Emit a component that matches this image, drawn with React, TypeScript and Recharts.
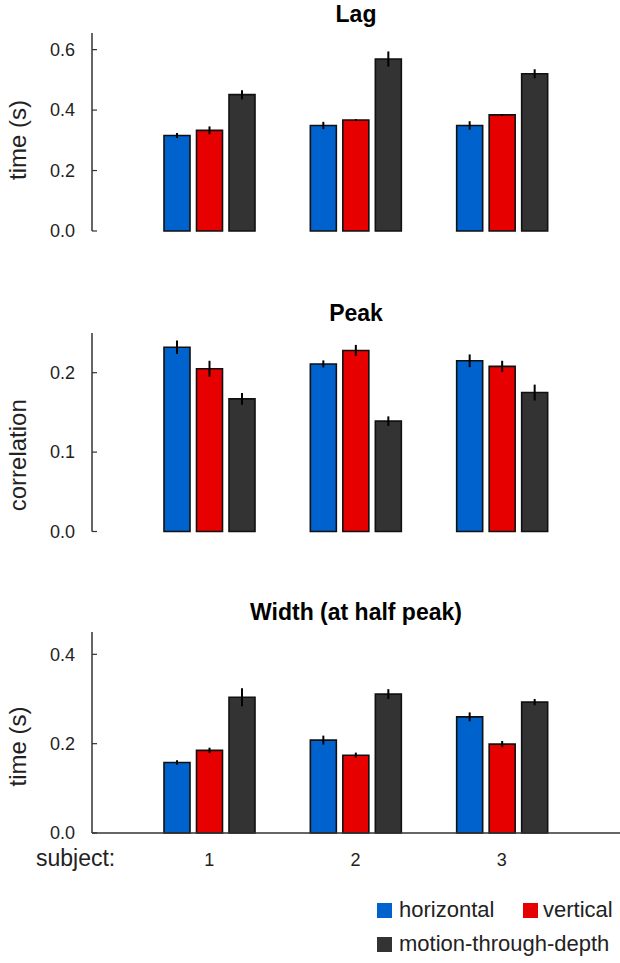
import React from 'react';
import { BarChart, Bar, XAxis, YAxis, ErrorBar } from 'recharts';

// ---- data ----
const subjects = ['1', '2', '3'];
const seriesNames = ['horizontal', 'vertical', 'motion-through-depth'];
const seriesColors = ['#0062CC', '#E60000', '#333333'];

const lagHorizontal = [0.316, 0.349, 0.349];
const lagHorizontalErr = [0.008, 0.012, 0.014];
const lagVertical = [0.333, 0.367, 0.384];
const lagVerticalErr = [0.013, 0.003, 0.003];
const lagDepth = [0.451, 0.569, 0.52];
const lagDepthErr = [0.015, 0.025, 0.015];

const peakHorizontal = [0.232, 0.211, 0.215];
const peakHorizontalErr = [0.0085, 0.0045, 0.008];
const peakVertical = [0.205, 0.228, 0.208];
const peakVerticalErr = [0.01, 0.007, 0.007];
const peakDepth = [0.167, 0.139, 0.175];
const peakDepthErr = [0.0075, 0.006, 0.01];

const widthHorizontal = [0.158, 0.208, 0.26];
const widthHorizontalErr = [0.005, 0.01, 0.01];
const widthVertical = [0.185, 0.174, 0.199];
const widthVerticalErr = [0.006, 0.006, 0.007];
const widthDepth = [0.304, 0.311, 0.293];
const widthDepthErr = [0.02, 0.011, 0.007];

const lagTicks = [0, 0.2, 0.4, 0.6];
const peakTicks = [0, 0.1, 0.2];
const widthTicks = [0, 0.2, 0.4];

function buildRows(h: number[], hE: number[], v: number[], vE: number[], d: number[], dE: number[]) {
  return subjects.map((s, i) => ({
    subject: s,
    h: h[i], hErr: hE[i],
    v: v[i], vErr: vE[i],
    d: d[i], dErr: dE[i],
  }));
}

const lagRows = buildRows(lagHorizontal, lagHorizontalErr, lagVertical, lagVerticalErr, lagDepth, lagDepthErr);
const peakRows = buildRows(peakHorizontal, peakHorizontalErr, peakVertical, peakVerticalErr, peakDepth, peakDepthErr);
const widthRows = buildRows(widthHorizontal, widthHorizontalErr, widthVertical, widthVerticalErr, widthDepth, widthDepthErr);

const FONT = '"Liberation Sans", Arial, Helvetica, sans-serif';
const AXIS = '#333333';

type PanelProps = {
  rows: any[];
  domain: [number, number];
  ticks: number[];
  yLabel: string;
  labelDy: number;
  top: number;
  height: number;
  marginTop: number;
  marginBottom: number;
  showX: boolean;
};

function Panel(p: PanelProps) {
  const keys = ['h', 'v', 'd'];
  return (
    <div style={{ position: 'absolute', left: 0, top: p.top }}>
      <BarChart
        width={620}
        height={p.height}
        data={p.rows}
        margin={{ top: p.marginTop, right: 0, bottom: p.showX ? 0 : p.marginBottom, left: 0 }}
        barGap={6.5}
        barSize={26}
      >
        <XAxis
          dataKey="subject"
          axisLine={{ stroke: AXIS, strokeWidth: 1.5 }}
          tickLine={false}
          tick={p.showX ? { fill: '#222', fontSize: 18, fontFamily: FONT } : false}
          tickSize={0}
          tickMargin={20}
          height={p.showX ? p.marginBottom : 0}
          padding={{ left: 44, right: 45 }}
        />
        <YAxis
          width={92}
          domain={p.domain}
          ticks={p.ticks}
          interval={0}
          tickFormatter={(v: number) => v.toFixed(1)}
          axisLine={{ stroke: AXIS, strokeWidth: 1.5 }}
          tickLine={{ stroke: AXIS, strokeWidth: 1.2 }}
          tickSize={-5}
          tickMargin={22}
          tick={{ fill: '#222', fontSize: 18, fontFamily: FONT }}
          label={{
            value: p.yLabel,
            content: (lp: any) => {
              const vb = lp.viewBox || {};
              const cx = 17;
              const cy = (vb.y || 0) + (vb.height || 0) / 2 + p.labelDy;
              return (
                <text
                  x={cx}
                  y={cy}
                  transform={`rotate(-90, ${cx}, ${cy})`}
                  textAnchor="middle"
                  dominantBaseline="central"
                  fill="#222"
                  fontSize={24}
                  fontFamily={FONT}
                >
                  {p.yLabel}
                </text>
              );
            },
          }}
        />
        {keys.map((k, i) => (
          <Bar
            key={k}
            dataKey={k}
            name={seriesNames[i]}
            fill={seriesColors[i]}
            stroke="#111"
            strokeWidth={1.6}
            isAnimationActive={false}
          >
            <ErrorBar dataKey={k + 'Err'} width={0} stroke="#000" strokeWidth={2} direction="y" isAnimationActive={false} />
          </Bar>
        ))}
      </BarChart>
    </div>
  );
}

export default function App() {
  return (
    <div style={{ position: 'absolute', left: 0, top: 0, width: 620, height: 963, background: '#fff', fontFamily: FONT }}>
      <Panel rows={lagRows} domain={[0, 0.655]} ticks={lagTicks} yLabel="time (s)" labelDy={8}
        top={0} height={250} marginTop={33} marginBottom={19} showX={false} />
      <Panel rows={peakRows} domain={[0, 0.25]} ticks={peakTicks} yLabel="correlation" labelDy={23}
        top={250} height={300} marginTop={83} marginBottom={18.5} showX={false} />
      <Panel rows={widthRows} domain={[0, 0.45]} ticks={widthTicks} yLabel="time (s)" labelDy={14}
        top={550} height={330} marginTop={82} marginBottom={47} showX={true} />
      <svg width={620} height={963} style={{ position: 'absolute', left: 0, top: 0, pointerEvents: 'none' }}>
        <g fontFamily={FONT} fill="#000">
          <text x={356} y={22} textAnchor="middle" fontWeight="bold" fontSize={23}>Lag</text>
          <text x={356} y={321} textAnchor="middle" fontWeight="bold" fontSize={23}>Peak</text>
          <text x={356} y={620} textAnchor="middle" fontWeight="bold" fontSize={23}>Width (at half peak)</text>
        </g>
        <text x={36} y={866} textAnchor="start" fontSize={23} fill="#222" fontFamily={FONT}>subject:</text>
        <g fontFamily={FONT} fontSize={22} fill="#222">
          <rect x={377} y={903} width={15} height={15} fill={seriesColors[0]} />
          <text x={399} y={917}>{seriesNames[0]}</text>
          <rect x={523} y={903} width={15} height={15} fill={seriesColors[1]} />
          <text x={543} y={917}>{seriesNames[1]}</text>
          <rect x={377} y={937} width={15} height={15} fill={seriesColors[2]} />
          <text x={399} y={951}>{seriesNames[2]}</text>
        </g>
      </svg>
    </div>
  );
}
